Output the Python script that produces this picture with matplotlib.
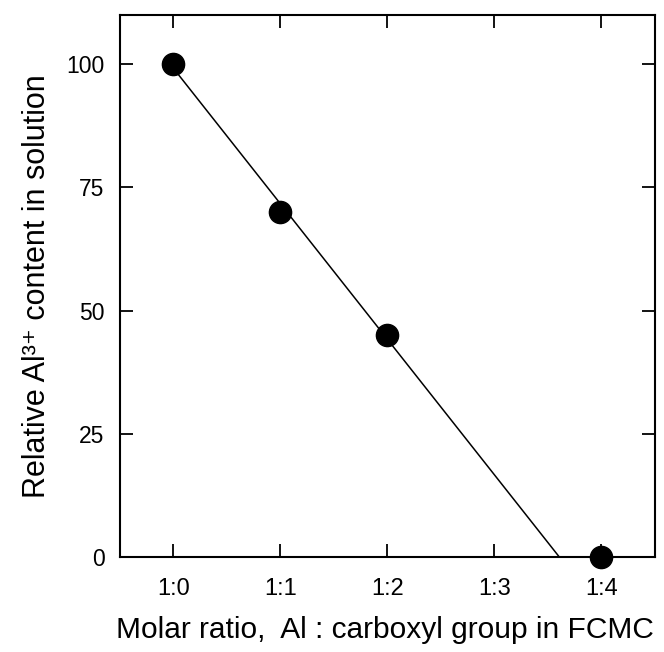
import numpy as np
import matplotlib
matplotlib.use('Agg')
import matplotlib.pyplot as plt

plt.rcParams['font.family'] = ['Liberation Sans', 'DejaVu Sans']

# Data
ratio_labels = ['1:0', '1:1', '1:2', '1:3', '1:4']
ratio_x = [0, 1, 2, 4]
al_content = [100, 70, 45, 0]
fit_points = 3  # line fitted through the first three points

fig = plt.figure(figsize=(6.64, 6.52), dpi=100)
ax = fig.add_axes([0.1807, 0.1457, 0.8057, 0.8313])

# Linear fit down to zero
slope, intercept = np.polyfit(ratio_x[:fit_points], al_content[:fit_points], 1)
x_zero = -intercept / slope
x_line = np.array([0, x_zero])
ax.plot(x_line, slope * x_line + intercept, color='black', lw=1.1)

ax.plot(ratio_x, al_content, 'o', color='black', markersize=16, clip_on=False, zorder=3)

ax.set_xlim(-0.5, 4.5)
ax.set_ylim(0, 110)
ax.set_xticks(range(len(ratio_labels)))
ax.set_xticklabels(ratio_labels)
ax.set_yticks([0, 25, 50, 75, 100])

for s in ax.spines.values():
    s.set_linewidth(1.5)
ax.tick_params(direction='in', length=9.5, width=1.3, top=True, right=True)
ax.tick_params(axis='x', pad=15, labelsize=17)
ax.tick_params(axis='y', pad=11, labelsize=16.5)

ax.set_ylabel('Relative Al³⁺ content in solution', fontsize=22)
ax.yaxis.set_label_coords(-0.128, 0.5)
ax.set_xlabel('Molar ratio,  Al : carboxyl group in FCMC', fontsize=21.5)
ax.xaxis.set_label_coords(0.495, -0.108)

fig.savefig('out.png', dpi=100)
